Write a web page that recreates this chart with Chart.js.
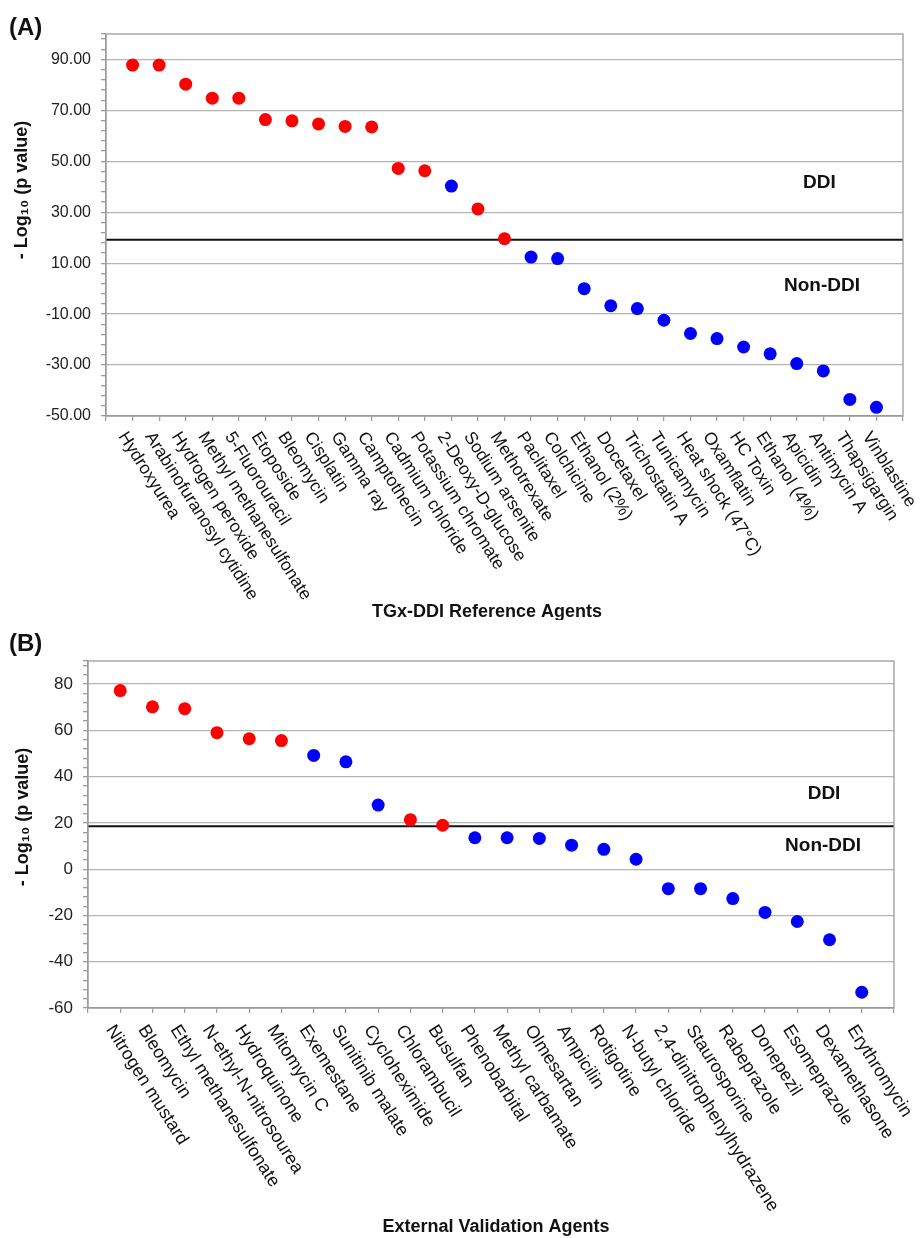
<!DOCTYPE html>
<html>
<head>
<meta charset="utf-8">
<script src="https://cdn.jsdelivr.net/npm/chart.js@4.4.1/dist/chart.umd.min.js"></script>
<style>
  html, body { margin: 0; padding: 0; background: #fff; }
  canvas { display: block; }
</style>
</head>
<body>
<canvas id="chartA" width="922" height="620"></canvas>
<canvas id="chartB" width="922" height="618"></canvas>
<script>
// ---------- DATA ----------

const agentsA = [
  "Hydroxyurea", "Arabinofuranosyl cytidine", "Hydrogen peroxide",
  "Methyl methanesulfonate", "5-Fluorouracil", "Etoposide", "Bleomycin",
  "Cisplatin", "Gamma ray", "Camptothecin", "Cadmium chloride",
  "Potassium chromate", "2-Deoxy-D-glucose", "Sodium arsenite",
  "Methotrexate", "Paclitaxel", "Colchicine", "Ethanol (2%)", "Docetaxel",
  "Trichostatin A", "Tunicamycin", "Heat shock (47°C)", "Oxamflatin",
  "HC Toxin", "Ethanol (4%)", "Apicidin", "Antimycin A", "Thapsigargin",
  "Vinblastine"
];
const scoresA = [
  87.8, 87.8, 80.3, 74.8, 74.8, 66.4, 65.9, 64.7, 63.7, 63.5,
  47.2, 46.3, 40.3, 31.3, 19.6, 12.4, 11.8, 0.0, -6.7, -7.8,
  -12.4, -17.6, -19.6, -22.9, -25.6, -29.4, -32.3, -43.5, -46.6
];
const callsA = [
  "DDI", "DDI", "DDI", "DDI", "DDI", "DDI", "DDI", "DDI", "DDI", "DDI",
  "DDI", "DDI", "Non-DDI", "DDI", "DDI", "Non-DDI", "Non-DDI", "Non-DDI",
  "Non-DDI", "Non-DDI", "Non-DDI", "Non-DDI", "Non-DDI", "Non-DDI",
  "Non-DDI", "Non-DDI", "Non-DDI", "Non-DDI", "Non-DDI"
];
const thresholdA = 19.2;
const yRangeA = [-50, 100];

const agentsB = [
  "Nitrogen mustard", "Bleomycin", "Ethyl methanesulfonate",
  "N-ethyl-N-nitrosourea", "Hydroquinone", "Mitomycin C", "Exemestane",
  "Sunitinib malate", "Cycloheximide", "Chlorambucil", "Busulfan",
  "Phenobarbital", "Methyl carbamate", "Olmesartan", "Ampicilin",
  "Rotigotine", "N-butyl chloride", "2,4-dinitrophenylhydrazene",
  "Staurosporine", "Rabeprazole", "Donepezil", "Esomeprazole",
  "Dexamethasone", "Erythromycin"
];
const scoresB = [
  77.2, 70.2, 69.4, 59.0, 56.4, 55.6, 49.2, 46.4, 27.7, 21.4, 19.0, 13.6,
  13.6, 13.3, 10.4, 8.6, 4.3, -8.4, -8.4, -12.7, -18.7, -22.6, -30.5, -53.2
];
const callsB = [
  "DDI", "DDI", "DDI", "DDI", "DDI", "DDI", "Non-DDI", "Non-DDI", "Non-DDI",
  "DDI", "DDI", "Non-DDI", "Non-DDI", "Non-DDI", "Non-DDI", "Non-DDI",
  "Non-DDI", "Non-DDI", "Non-DDI", "Non-DDI", "Non-DDI", "Non-DDI",
  "Non-DDI", "Non-DDI"
];
const thresholdB = 18.6;
const yRangeB = [-60, 90];

const majorStep = 20;
const minorStep = 4;

// ---------- STYLE ----------

const FONT = "'Liberation Sans', Arial, sans-serif";
const callColor = { "DDI": "#ff0000", "Non-DDI": "#0000ff" };
const gridGray = "#b4b4b4";
const axisGray = "#9c9c9c";

// ---------- PLUGINS ----------

// plot frame
const framePlugin = {
  id: "frame",
  afterDatasetsDraw(chart) {
    const { ctx, chartArea: a } = chart;
    ctx.save();
    ctx.strokeStyle = axisGray;
    ctx.lineWidth = 1.3;
    ctx.strokeRect(a.left, a.top, a.right - a.left, a.bottom - a.top);
    ctx.restore();
  }
};

// rotated category names, axis titles, region labels
function makeTextPlugin(p) {
  return {
    id: "text" + p.letter,
    afterDraw(chart) {
      const { ctx, chartArea: a } = chart;
      const xs = chart.scales.x, ys = chart.scales.y;
      ctx.save();
      ctx.fillStyle = "#111";

      // category names, reading down to the right
      ctx.font = p.labelSize + "px " + FONT;
      ctx.textAlign = "left";
      ctx.textBaseline = "top";
      p.agents.forEach((name, i) => {
        const x = xs.getPixelForValue(i + 1);
        ctx.save();
        ctx.translate(x + p.labelDx, a.bottom + p.labelDy);
        ctx.rotate(p.labelAngle * Math.PI / 180);
        ctx.fillText(name, 0, 0);
        ctx.restore();
      });

      // y title
      ctx.font = "bold 18px " + FONT;
      ctx.textAlign = "center";
      ctx.textBaseline = "middle";
      ctx.save();
      ctx.translate(p.yTitle[0], p.yTitle[1]);
      ctx.rotate(-Math.PI / 2);
      ctx.fillText("- Log\u2081\u2080 (p value)", 0, 0);
      ctx.restore();

      // x title
      ctx.fillText(p.xTitle, p.xTitlePos[0], p.xTitlePos[1]);

      // region labels
      ctx.font = "bold 19px " + FONT;
      ctx.fillText("DDI", xs.getPixelForValue(p.ddiAt[0]), ys.getPixelForValue(p.ddiAt[1]));
      ctx.fillText("Non-DDI", xs.getPixelForValue(p.nonAt[0]), ys.getPixelForValue(p.nonAt[1]));

      // panel letter
      ctx.font = "bold 24px " + FONT;
      ctx.textAlign = "left";
      ctx.fillText("(" + p.letter + ")", 9, p.letterY);
      ctx.restore();
    }
  };
}

// ---------- CHART ----------

function buildChart(canvas, p) {
  const n = p.agents.length;
  const [yMin, yMax] = p.yRange;
  const isMajor = v => (v - yMin) % majorStep === 0;

  return new Chart(canvas, {
    type: "scatter",
    data: {
      datasets: [
        {
          label: "agents",
          data: p.scores.map((v, i) => ({ x: i + 1, y: v })),
          pointRadius: 6.5,
          pointHoverRadius: 6.5,
          pointBorderWidth: 0,
          pointBackgroundColor: p.calls.map(c => callColor[c]),
          order: 0
        },
        {
          label: "threshold",
          type: "line",
          data: [{ x: 0, y: p.threshold }, { x: n + 1, y: p.threshold }],
          borderColor: "#111",
          borderWidth: 2,
          pointRadius: 0,
          order: 1
        }
      ]
    },
    options: {
      responsive: false,
      animation: false,
      events: [],
      layout: { padding: p.padding },
      plugins: { legend: { display: false }, tooltip: { enabled: false } },
      scales: {
        x: {
          type: "linear",
          min: 0,
          max: n + 1,
          afterBuildTicks: s => {
            s.ticks = [];
            for (let v = 0; v <= n + 1; v++) s.ticks.push({ value: v });
          },
          ticks: { autoSkip: false, maxRotation: 0, callback: () => "" },
          grid: { drawOnChartArea: false, tickLength: 5, tickColor: axisGray, lineWidth: 1.2 },
          border: { color: axisGray, width: 1.3 },
          afterFit: s => { s.height = p.xAxisHeight; }
        },
        y: {
          min: yMin,
          max: yMax,
          afterBuildTicks: s => {
            s.ticks = [];
            for (let v = yMin; v < yMax; v += minorStep) s.ticks.push({ value: v });
            s.ticks.push({ value: yMax });
          },
          ticks: {
            autoSkip: false,
            padding: 10,
            color: "#222",
            font: { family: FONT, size: p.tickSize },
            callback: v => isMajor(v) ? p.tickFormat(v) : ""
          },
          grid: {
            color: c => (c.tick && isMajor(c.tick.value)) ? gridGray : "rgba(0,0,0,0)",
            lineWidth: 1.3,
            tickLength: 5,
            tickColor: axisGray
          },
          border: { color: axisGray, width: 1.3 },
          afterFit: s => { s.width = p.yAxisWidth; }
        }
      }
    },
    plugins: [framePlugin, makeTextPlugin(p)]
  });
}

// ---------- INIT ----------

buildChart(document.getElementById("chartA"), {
  letter: "A",
  agents: agentsA,
  scores: scoresA,
  calls: callsA,
  threshold: thresholdA,
  yRange: yRangeA,
  tickFormat: v => v.toFixed(2),
  tickSize: 16,
  labelSize: 17.5,
  labelAngle: 57.5,
  labelDx: -3,
  labelDy: 13,
  padding: { top: 34, right: 19, left: 0, bottom: 0 },
  yAxisWidth: 106,
  xAxisHeight: 204,
  yTitle: [22, 190],
  xTitle: "TGx-DDI Reference Agents",
  xTitlePos: [487, 612],
  ddiAt: [26.85, 41.6],
  nonAt: [26.95, 1.1],
  letterY: 28
});

buildChart(document.getElementById("chartB"), {
  letter: "B",
  agents: agentsB,
  scores: scoresB,
  calls: callsB,
  threshold: thresholdB,
  yRange: yRangeB,
  tickFormat: v => String(v),
  tickSize: 17,
  labelSize: 18,
  labelAngle: 57.5,
  labelDx: -3,
  labelDy: 14,
  padding: { top: 41, right: 28, left: 0, bottom: 0 },
  yAxisWidth: 88,
  xAxisHeight: 230,
  yTitle: [23, 197],
  xTitle: "External Validation Agents",
  xTitlePos: [496, 607],
  ddiAt: [22.83, 32.6],
  nonAt: [22.8, 10],
  letterY: 24
});
</script>
</body>
</html>
